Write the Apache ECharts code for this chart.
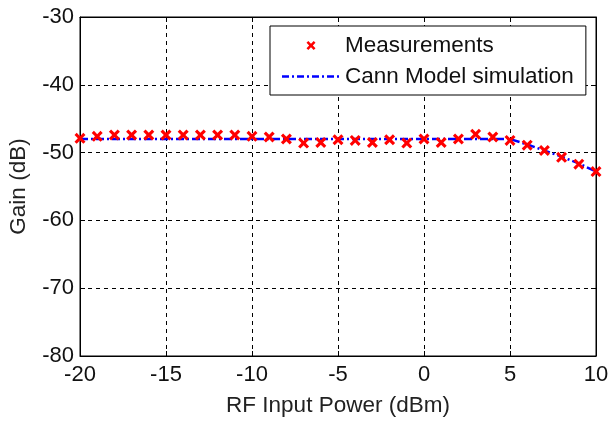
<!DOCTYPE html>
<html><head><meta charset="utf-8">
<script src="https://cdn.jsdelivr.net/npm/echarts@6/dist/echarts.min.js"></script>
<style>html,body{margin:0;padding:0;background:#fff}#c{width:609px;height:421px}</style>
</head><body><div id="c"></div>
<script>
const measX = [-20,-19,-18,-17,-16,-15,-14,-13,-12,-11,-10,-9,-8,-7,-6,-5,-4,-3,-2,-1,0,1,2,3,4,5,6,7,8,9,10];
const measY = [-47.9,-47.6,-47.4,-47.4,-47.4,-47.4,-47.4,-47.4,-47.4,-47.4,-47.6,-47.7,-48.0,-48.6,-48.5,-48.1,-48.2,-48.5,-48.1,-48.6,-48.0,-48.5,-48.0,-47.3,-47.7,-48.2,-48.9,-49.7,-50.7,-51.7,-52.8];
const simX = [-20,-15,-10,-5,0,5,6,7,8,9,10];
const simY = [-48.0,-48.0,-48.0,-48.0,-48.0,-48.0,-48.8,-49.7,-50.6,-51.6,-52.8];
const xTicks = {min:-20, max:10, step:5};
const yTicks = {min:-80, max:-30, step:10};

const chart = echarts.init(document.getElementById('c'), null, {renderer:'canvas'});
const font = 'Liberation Sans, Arial, sans-serif';
const xMark = 'path://M0,2 L2,0 L5,3 L8,0 L10,2 L7,5 L10,8 L8,10 L5,7 L2,10 L0,8 L3,5 Z';
// legend icons in a 58x22 box (tiny corner specks fix the bounding box)
const box = 'M0,0 L0.01,0 L0,0.01 Z M58,22 L57.99,22 L58,21.99 Z ';
const legX = 'path://' + box + 'M24.5,8.3 L26.3,6.5 L29,9.2 L31.7,6.5 L33.5,8.3 L30.8,11 L33.5,13.7 L31.7,15.5 L29,12.8 L26.3,15.5 L24.5,13.7 L27.2,11 Z';
const legLine = 'path://' + box + 'M0,9.8h7v2.4h-7Z M10,9.8h2v2.4h-2Z M15,9.8h7v2.4h-7Z M25,9.8h2v2.4h-2Z M30,9.8h7v2.4h-7Z M40,9.8h2v2.4h-2Z M45,9.8h7v2.4h-7Z M55,9.8h2v2.4h-2Z';
const axisCommon = {
  axisLine:{show:true, onZero:false, lineStyle:{color:'#000', width:1}},
  axisTick:{show:true, inside:true, length:5, lineStyle:{color:'#000'}},
};
const fs = 22.5, fsT = 22;
chart.setOption({
  animation:false,
  backgroundColor:'#fff',
  grid:{left:80, right:13, top:17, bottom:65, show:true, borderColor:'#000', borderWidth:1,
        containLabel:false, outerBoundsMode:'none'},
  legend:{
    orient:'vertical', left:270, top:26,
    backgroundColor:'#fff', borderColor:'#000', borderWidth:1,
    padding:[8,12,7,12], itemGap:8, itemWidth:58, itemHeight:22,
    textStyle:{fontSize:fs, fontFamily:font, color:'#111'},
    data:[
      {name:'Measurements', icon:legX},
      {name:'Cann Model simulation', icon:legLine}
    ]
  },
  xAxis:[{
    type:'value', min:xTicks.min, max:xTicks.max, interval:xTicks.step,
    name:'RF Input Power (dBm)', nameLocation:'middle', nameGap:38,
    nameTextStyle:{fontSize:fs, fontFamily:font, color:'#222'},
    axisLabel:{fontSize:fsT, fontFamily:font, color:'#111', margin:8},
    splitLine:{show:true, lineStyle:{color:'#000', type:[4,4], width:1}},
    ...axisCommon
  },{
    type:'value', position:'top', min:xTicks.min, max:xTicks.max, interval:xTicks.step,
    axisLabel:{show:false}, splitLine:{show:false}, ...axisCommon
  }],
  yAxis:[{
    type:'value', min:yTicks.min, max:yTicks.max, interval:yTicks.step,
    name:'Gain (dB)', nameLocation:'middle', nameGap:50,
    nameTextStyle:{fontSize:fs, fontFamily:font, color:'#222'},
    axisLabel:{fontSize:fsT, fontFamily:font, color:'#111', margin:6},
    splitLine:{show:true, lineStyle:{color:'#000', type:[4,4], width:1}},
    ...axisCommon
  },{
    type:'value', position:'right', min:yTicks.min, max:yTicks.max, interval:yTicks.step,
    axisLabel:{show:false}, splitLine:{show:false}, ...axisCommon
  }],
  series:[{
    name:'Cann Model simulation', type:'line', showSymbol:false, symbol:'none',
    data: simX.map((x,i)=>[x, simY[i]]),
    lineStyle:{color:'#0000ff', width:2.5, type:[8,3,2,3]},
    itemStyle:{color:'#0000ff'}, z:2
  },{
    name:'Measurements', type:'scatter', symbol:xMark, symbolSize:11,
    data: measX.map((x,i)=>[x, measY[i]]),
    itemStyle:{color:'#ff0000', opacity:1}, z:3
  }]
});
</script></body></html>
